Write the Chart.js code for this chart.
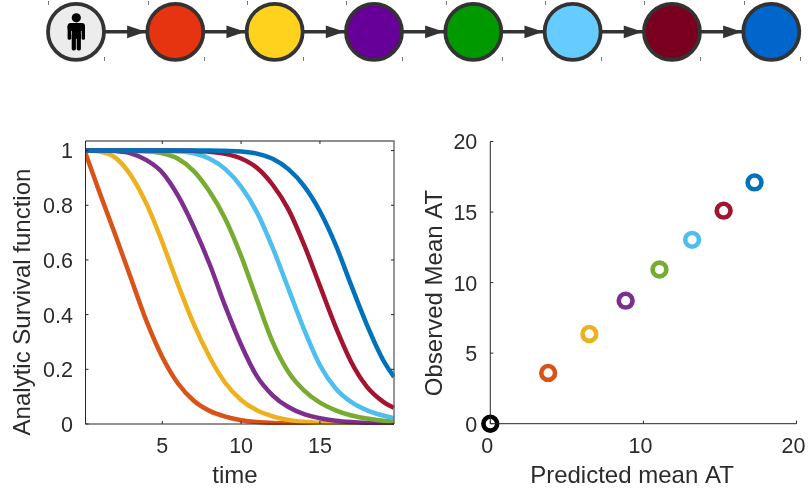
<!DOCTYPE html>
<html>
<head>
<meta charset="utf-8">
<style>
html,body{margin:0;padding:0;background:#fff;width:808px;height:492px;overflow:hidden}
canvas{position:absolute;display:block}
</style>
<script src="https://cdn.jsdelivr.net/npm/chart.js@4/dist/chart.umd.js"></script>
</head>
<body>
<canvas id="flow" width="808" height="62" style="left:0;top:0;width:808px;height:62px"></canvas>
<canvas id="surv" width="404" height="362" style="left:0;top:130px;width:404px;height:362px"></canvas>
<canvas id="scat" width="404" height="362" style="left:404px;top:130px;width:404px;height:362px"></canvas>
<script>
const stages = [0,1,2,3,4,5,6,7];
const stageFill = ['#ececec','#e5340f','#ffd21e','#660099','#009900','#66ccff','#7a0020','#0066cc'];

const timeGrid = [0.13,1,2,3,4,5,6,7,8,9,10,11,12,13,14,15,16,17,18,19,19.7];
const seriesColors = ['#d95319','#edb120','#7e2f8e','#77ac30','#4dbeee','#a2142f','#0072bd'];
const survOrange = [0.99,0.85,0.695,0.535,0.376,0.245,0.148,0.085,0.048,0.027,0.014,0.007,0.004,0.002,0.001,0.001,0,0,0,0,0];
const survYellow = [1,0.996,0.975,0.91,0.805,0.665,0.51,0.365,0.245,0.15,0.088,0.05,0.028,0.015,0.008,0.004,0.002,0.001,0.001,0,0];
const survPurple = [1,1,0.998,0.99,0.965,0.92,0.835,0.72,0.585,0.43,0.29,0.175,0.105,0.062,0.036,0.021,0.012,0.007,0.004,0.002,0.001];
const survGreen  = [1,1,1,0.999,0.997,0.99,0.97,0.925,0.85,0.75,0.615,0.455,0.30,0.19,0.122,0.078,0.05,0.031,0.02,0.012,0.009];
const survSky    = [1,1,1,1,1,0.999,0.997,0.99,0.97,0.932,0.868,0.775,0.645,0.495,0.345,0.215,0.13,0.08,0.05,0.031,0.022];
const survCrimson= [1,1,1,1,1,1,1,0.999,0.996,0.988,0.971,0.937,0.875,0.785,0.655,0.505,0.355,0.225,0.135,0.082,0.059];
const survBlue   = [1,1,1,1,1,1,1,1,1,0.999,0.997,0.989,0.97,0.932,0.87,0.778,0.655,0.505,0.36,0.235,0.172];
const survival = [survOrange,survYellow,survPurple,survGreen,survSky,survCrimson,survBlue];

const predictedMean = [3.78,6.47,8.84,11.05,13.18,15.24,17.26];
const observedMean  = [3.60,6.36,8.72,10.93,13.03,15.10,17.10];
const originPoint = [0];

const survXTicks = [5,10,15];
const survYTicks = [0,0.2,0.4,0.6,0.8,1];
const scatXTicks = [0,10,20];
const scatYTicks = [0,5,10,15,20];

const survXLabel = 'time';
const survYLabel = 'Analytic Survival function';
const scatXLabel = 'Predicted mean AT';
const scatYLabel = 'Observed Mean AT';

const FONT = '"Liberation Sans", Arial, sans-serif';
const TXT = '#2b2b2b';
const NODE_EDGE = '#333333';

Chart.defaults.font.family = FONT;
Chart.defaults.animation = false;

function fixedTicks(list){ return s => { s.ticks = list.map(v => ({value:v})); }; }

function axisDecor(opts){
  return { id:'axisDecor', afterDatasetsDraw(chart){
    const {ctx, chartArea:a, scales:{x,y}} = chart;
    ctx.save();
    if(opts.box){
      ctx.strokeStyle = '#6a6a6a'; ctx.lineWidth = 1.4;
      ctx.beginPath(); ctx.moveTo(a.left,a.top); ctx.lineTo(a.right,a.top); ctx.lineTo(a.right,a.bottom); ctx.stroke();
    }
    ctx.strokeStyle = '#262626'; ctx.lineWidth = 1;
    ctx.beginPath();
    ctx.moveTo(a.left,a.top); ctx.lineTo(a.left,a.bottom); ctx.lineTo(a.right,a.bottom);
    const t = 3;
    x.ticks.forEach(k=>{ const p=x.getPixelForValue(k.value); ctx.moveTo(p,a.bottom); ctx.lineTo(p,a.bottom-t); if(opts.box){ctx.moveTo(p,a.top); ctx.lineTo(p,a.top+t);} });
    y.ticks.forEach(k=>{ const p=y.getPixelForValue(k.value); ctx.moveTo(a.left,p); ctx.lineTo(a.left+t,p); if(opts.box){ctx.moveTo(a.right,p); ctx.lineTo(a.right-t,p);} });
    ctx.stroke();
    ctx.fillStyle = TXT; ctx.font = '24px '+FONT; ctx.textAlign='center'; ctx.textBaseline='middle';
    ctx.fillText(opts.xLabel, opts.xPos[0], opts.xPos[1]);
    ctx.translate(opts.yPos[0], opts.yPos[1]); ctx.rotate(-Math.PI/2);
    ctx.fillText(opts.yLabel, 0, 0);
    ctx.restore();
  }};
}

function axes(xMin,xMax,yMin,yMax,xTicks,yTicks,yW,xH,xOff,yPad){
  return {
    x:{type:'linear',min:xMin,max:xMax,afterBuildTicks:fixedTicks(xTicks),
       afterFit(s){s.height=xH;s.paddingLeft=0;s.paddingRight=0;},
       grid:{display:false,drawTicks:false},border:{display:false},
       ticks:{color:TXT,font:{size:21.5},padding:10,maxRotation:0,autoSkip:false,labelOffset:xOff,callback:v=>String(v)}},
    y:{type:'linear',min:yMin,max:yMax,afterBuildTicks:fixedTicks(yTicks),
       afterFit(s){s.width=yW;s.paddingTop=0;s.paddingBottom=0;},
       grid:{display:false,drawTicks:false},border:{display:false},
       ticks:{color:TXT,font:{size:21.5},padding:yPad,labelOffset:2,autoSkip:false,callback:v=>String(v)}}
  };
}

/* survival curves */
new Chart(document.getElementById('surv'),{
  type:'line',
  data:{datasets:survival.map((vals,i)=>({
    data:vals.map((v,j)=>({x:timeGrid[j],y:v})),
    borderColor:seriesColors[i],borderWidth:4.5,pointRadius:0,fill:false,
    cubicInterpolationMode:'monotone',order:survival.length-i,
    clip:{left:0,top:2,right:1,bottom:1}
  }))},
  options:{responsive:false,devicePixelRatio:1,animation:false,
    layout:{padding:{left:0,right:10,top:11,bottom:0}},
    plugins:{legend:{display:false},tooltip:{enabled:false}},
    scales:axes(0.13,19.7,0,1.035,survXTicks,survYTicks,85.5,68,0,12.5)},
  plugins:[axisDecor({box:true,xLabel:survXLabel,yLabel:survYLabel,xPos:[235,346],yPos:[23,172]})]
});

/* predicted vs observed */
const ringData = predictedMean.map((p,i)=>({
  data:[{x:p,y:observedMean[i]}],borderColor:seriesColors[i],backgroundColor:'rgba(0,0,0,0)',
  pointRadius:6.9,pointBorderWidth:4.6,pointBorderColor:seriesColors[i],pointBackgroundColor:'rgba(0,0,0,0)',
  showLine:false,clip:false,order:2}));
ringData.push({data:[{x:originPoint[0],y:originPoint[0]}],pointRadius:6.9,pointBorderWidth:4.6,pointBorderColor:'#000',
  pointBackgroundColor:'rgba(0,0,0,0)',showLine:false,clip:false,order:1});
new Chart(document.getElementById('scat'),{
  type:'scatter',
  data:{datasets:ringData},
  options:{responsive:false,devicePixelRatio:1,animation:false,
    layout:{padding:{left:0,right:10.7,top:10.7,bottom:0}},
    plugins:{legend:{display:false},tooltip:{enabled:false}},
    scales:axes(0,20,0,20,scatXTicks,scatYTicks,86.3,68.3,-3,13)},
  plugins:[axisDecor({box:false,xLabel:scatXLabel,yLabel:scatYLabel,xPos:[228,346],yPos:[31,163]})]
});

/* state chain */
const chainDecor = {id:'chainDecor',
  beforeDatasetsDraw(chart){
    const {ctx,scales:{x,y}} = chart, cy = y.getPixelForValue(0);
    ctx.save(); ctx.fillStyle = NODE_EDGE;
    stages.slice(1).forEach(s=>{
      const tip = x.getPixelForValue(s)-29.5;
      ctx.beginPath(); ctx.moveTo(tip,cy); ctx.lineTo(tip-18.7,cy-6.4); ctx.lineTo(tip-18.7,cy+6.4); ctx.closePath(); ctx.fill();
    });
    ctx.restore();
  },
  afterDatasetsDraw(chart){
    const {ctx,scales:{x,y}} = chart, cx = x.getPixelForValue(stages[0]), cy = y.getPixelForValue(0);
    ctx.save();
    /* small marks around each node */
    ctx.strokeStyle = '#777'; ctx.lineWidth = 1;
    stages.forEach(s=>{
      const p = x.getPixelForValue(s);
      ctx.beginPath();
      ctx.moveTo(Math.round(p-27.8)+0.5,1); ctx.lineTo(Math.round(p-27.8)+0.5,5);
      ctx.moveTo(Math.round(p+28.2)+0.5,57); ctx.lineTo(Math.round(p+28.2)+0.5,61);
      ctx.stroke();
    });
    /* person icon */
    const px = cx+0.3, py = cy;
    ctx.fillStyle = '#000';
    ctx.beginPath(); ctx.arc(px,py-14,4.6,0,Math.PI*2); ctx.fill();
    ctx.beginPath(); ctx.roundRect(px-8.7,py-8.7,17.4,8,3.2); ctx.fill();
    ctx.beginPath(); ctx.roundRect(px-8.7,py-7,3.4,15,1.6); ctx.fill();
    ctx.beginPath(); ctx.roundRect(px+5.3,py-7,3.4,15,1.6); ctx.fill();
    ctx.fillRect(px-4.6,py-7,9.2,14);
    ctx.beginPath(); ctx.roundRect(px-4.6,py+2,4.2,16.6,1.6); ctx.fill();
    ctx.beginPath(); ctx.roundRect(px+0.4,py+2,4.2,16.6,1.6); ctx.fill();
    ctx.restore();
  }
};
new Chart(document.getElementById('flow'),{
  type:'scatter',
  data:{datasets:[
    {data:stages.map(s=>({x:s,y:0})),pointRadius:28,pointBorderWidth:3.8,pointBorderColor:NODE_EDGE,
     pointBackgroundColor:stageFill,showLine:false,clip:false,order:1},
    {type:'line',data:stages.map(s=>({x:s,y:0})),borderColor:NODE_EDGE,borderWidth:3.6,pointRadius:0,clip:false,order:2}
  ]},
  options:{responsive:false,devicePixelRatio:1,animation:false,
    layout:{padding:{left:76,right:36.7,top:20.7,bottom:21.3}},
    plugins:{legend:{display:false},tooltip:{enabled:false}},
    scales:{x:{type:'linear',min:stages[0],max:stages[7],display:false},y:{type:'linear',min:-1,max:1,display:false}}},
  plugins:[chainDecor]
});
</script>
</body>
</html>
